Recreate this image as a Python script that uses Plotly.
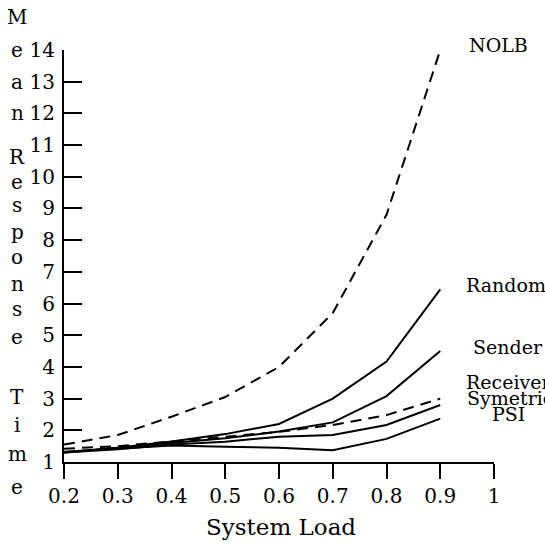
import plotly.graph_objects as go

# ---- data ----
loads = [0.2, 0.3, 0.4, 0.5, 0.6, 0.7, 0.8, 0.9]
nolb = [1.55, 1.85, 2.43, 3.05, 4.0, 5.7, 8.8, 14.0]
random_ = [1.3, 1.45, 1.65, 1.88, 2.2, 3.0, 4.17, 6.45]
sender = [1.3, 1.45, 1.6, 1.75, 1.96, 2.25, 3.08, 4.5]
receiver = [1.42, 1.5, 1.65, 1.8, 1.95, 2.17, 2.48, 3.0]
symetric = [1.3, 1.4, 1.55, 1.64, 1.8, 1.85, 2.17, 2.8]
psi = [1.32, 1.42, 1.52, 1.48, 1.45, 1.37, 1.73, 2.37]

x_ticks = [0.2, 0.3, 0.4, 0.5, 0.6, 0.7, 0.8, 0.9, 1.0]
x_ticktext = ["0.2", "0.3", "0.4", "0.5", "0.6", "0.7", "0.8", "0.9", "1"]
y_ticks = list(range(1, 15))

series = [
    ("NOLB", nolb, "dash"),
    ("Random", random_, "solid"),
    ("Sender", sender, "solid"),
    ("Receiver", receiver, "dash"),
    ("Symetric", symetric, "solid"),
    ("PSI", psi, "solid"),
]

FONT = "DejaVu Serif"
W, H = 545, 546
L, R, T, B = 64, 51, 50, 84
PW, PH = W - L - R, H - T - B

def px_x(px):
    return (px - L) / PW

def px_y(py):
    return (H - B - py) / PH

fig = go.Figure()
for name, vals, dash in series:
    fig.add_trace(go.Scatter(
        x=loads, y=vals, mode="lines", name=name,
        line=dict(color="black", width=2, dash="11px,7px" if dash == "dash" else "solid"),
        showlegend=False, hoverinfo="skip",
    ))

annotations = []
# series labels (position in pixels)
label_pos = {
    "NOLB": (467, 45),
    "Random": (464, 285),
    "Sender": (471, 347),
    "Receiver": (464, 382),
    "Symetric": (465, 398),
    "PSI": (490, 414),
}
for name, (lx, ly) in label_pos.items():
    annotations.append(dict(
        text=name, xref="paper", yref="paper", x=px_x(lx), y=px_y(ly),
        xanchor="left", yanchor="middle", showarrow=False,
        font=dict(family=FONT, size=19, color="black"),
    ))

# vertical stacked y-axis title
letters = [("M", 17), ("e", 50), ("a", 82), ("n", 113),
           ("R", 157), ("e", 182), ("s", 205), ("p", 232), ("o", 257),
           ("n", 284), ("s", 309), ("e", 337),
           ("T", 397), ("i", 425), ("m", 454), ("e", 487)]
for ch, ly in letters:
    annotations.append(dict(
        text=ch, xref="paper", yref="paper", x=px_x(17), y=px_y(ly),
        xanchor="center", yanchor="middle", showarrow=False,
        font=dict(family=FONT, size=20, color="black"),
    ))

# x-axis title
annotations.append(dict(
    text="System Load", xref="paper", yref="paper", x=px_x(281), y=px_y(527),
    xanchor="center", yanchor="middle", showarrow=False,
    font=dict(family=FONT, size=23, color="black"),
))

fig.update_layout(
    width=W, height=H, autosize=False,
    margin=dict(l=L, r=R, t=T, b=B, pad=0),
    paper_bgcolor="white", plot_bgcolor="white",
    annotations=annotations,
    shapes=[dict(type="line", xref="paper", yref="paper",
                 x0=0, x1=0, y0=0, y1=-15 / PH,
                 line=dict(color="black", width=2))],
)
fig.update_xaxes(
    range=[0.2, 1.0], tickvals=x_ticks, ticktext=x_ticktext,
    showline=True, linecolor="black", linewidth=2,
    ticks="outside", ticklen=15, tickwidth=2, tickcolor="black",
    showgrid=False, zeroline=False,
    tickfont=dict(family=FONT, size=20, color="black"),
)
fig.update_yaxes(
    range=[1, 14], tickvals=y_ticks,
    showline=True, linecolor="black", linewidth=2,
    ticks="inside", ticklen=18, tickwidth=2, tickcolor="black",
    showgrid=False, zeroline=False, ticklabelstandoff=3,
    tickfont=dict(family=FONT, size=20, color="black"),
)

fig.write_html("out.html")
